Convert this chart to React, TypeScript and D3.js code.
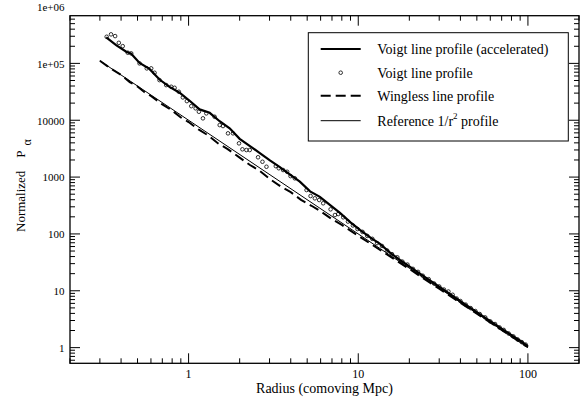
import React from "react";
import * as d3 from "d3";

const WIDTH = 588;
const HEIGHT = 403;

// Voigt line profile, accelerated run (thick solid line)
const radiusAccel = [0.327, 0.374, 0.429, 0.459, 0.514, 0.588, 0.674, 0.772, 0.885, 1.014, 1.161, 1.331, 1.524, 1.746, 2.0, 2.3, 2.63, 3.0, 3.45, 4.0, 4.525, 5.2, 5.94, 6.8, 7.8, 9.0, 10.23, 11.8, 13.43, 15.5, 17.6, 20, 25, 30, 35, 40, 50, 60, 70, 80, 90, 100];
const pAccel = [2.87e5, 2.1e5, 1.6e5, 1.48e5, 1.02e5, 8.0e4, 5.2e4, 3.85e4, 3.05e4, 2.2e4, 1.55e4, 1.35e4, 9.6e3, 7.2e3, 4.7e3, 3.5e3, 2.65e3, 1.98e3, 1.5e3, 1.08e3, 830, 560, 450, 325, 235, 160, 118, 86, 67, 46, 34.8, 26.8, 17.0, 11.8, 8.6, 6.56, 4.2, 2.92, 2.16, 1.66, 1.32, 1.06];

// Voigt line profile (open circles)
const radiusVoigt = [0.329, 0.349, 0.369, 0.388, 0.409, 0.438, 0.459, 0.514, 0.567, 0.602, 0.63, 0.674, 0.738, 0.79, 0.827, 0.876, 0.925, 0.977, 1.037, 1.1, 1.15, 1.215, 1.272, 1.424, 1.525, 1.595, 1.707, 1.827, 1.982, 2.076, 2.192, 2.293, 2.567, 2.725, 2.877, 3.266, 3.401, 3.606, 3.808, 3.989, 4.227, 4.958, 5.235, 5.549, 5.884, 6.214, 6.871, 7.287, 7.622, 8.155, 8.7, 9.3, 9.9, 10.6, 11.3, 12.1, 12.9, 13.8, 14.8, 15.8, 17.0, 18.2, 19.5, 21, 22.5, 24, 26, 28, 30, 32, 34, 36, 38, 40, 43, 46, 49, 52, 56, 60, 64, 68, 72, 77, 82, 87, 92, 97];
const pVoigt = [2.94e5, 3.24e5, 3.02e5, 2.3e5, 2.01e5, 1.54e5, 1.5e5, 1.0e5, 8.17e4, 8.17e4, 6.84e4, 5.08e4, 4.15e4, 3.88e4, 3.72e4, 3.17e4, 2.52e4, 2.17e4, 1.77e4, 1.62e4, 1.41e4, 1.08e4, 1.32e4, 1.15e4, 8.23e3, 7.9e3, 5.88e3, 5.88e3, 3.92e3, 3.08e3, 2.99e3, 2.99e3, 2.23e3, 1.86e3, 1.52e3, 1.56e3, 1.43e3, 1.33e3, 1.24e3, 1.04e3, 951, 592, 464, 423, 395, 346, 271, 215, 224, 196, 165, 141, 122, 108.6, 92.4, 82, 69, 61.4, 51.1, 44.1, 38.8, 32.6, 28.9, 24.3, 21.5, 18.4, 16.0, 13.4, 11.9, 10.5, 9.7, 8.5, 7.3, 6.6, 5.7, 4.95, 4.4, 3.9, 3.4, 2.9, 2.6, 2.27, 2.05, 1.77, 1.58, 1.39, 1.25, 1.13];

// Wingless line profile (thick dashed line)
const radiusWingless = [0.3, 0.35, 0.4, 0.45, 0.5, 0.55, 0.6, 0.7, 0.8, 0.9, 1.0, 1.15, 1.3, 1.5, 1.7, 2.0, 2.3, 2.6, 3.0, 3.5, 4.0, 4.6, 5.3, 6.0, 7.0, 8.0, 10, 12, 15, 20, 25, 30, 40, 50, 70, 100];
const pWingless = [1.11e5, 8.0e4, 6.25e4, 4.69e4, 3.92e4, 3.11e4, 2.67e4, 1.9e4, 1.48e4, 1.12e4, 9.3e3, 6.81e3, 5.44e3, 3.87e3, 3.11e3, 2.2e3, 1.63e3, 1.32e3, 933, 678, 544, 397, 313, 250, 182, 144, 93, 65.3, 42.2, 24.25, 15.5, 10.9, 6.13, 3.96, 2.04, 1.02];

// Reference 1/r^2 profile (thin line, straight in log-log)
const radiusRef = [0.3, 100];
const pRef = [1.111e5, 1.0];

const xTickValues = [1, 10, 100];
const xTickLabels = ["1", "10", "100"];
const yTickValues = [1, 10, 100, 1000, 10000, 1e5, 1e6];
const yTickLabels = ["1", "10", "100", "1000", "10000", "1e+05", "1e+06"];

const legendLabels = [
  "Voigt line profile (accelerated)",
  "Voigt line profile",
  "Wingless line profile",
  "Reference 1/r",
];

const serif = { fontFamily: "'Liberation Serif', 'Times New Roman', Times, serif" };

export default function App() {
  const left = 70, right = 579, top = 15.7, bottom = 363.3;
  const x = d3.scaleLog().domain([0.2, 200]).range([left, right]);
  const y = d3.scaleLog().domain([0.53, 6.9e5]).range([bottom, top]);

  const pts = (rs: number[], ps: number[]) => rs.map((r, i) => [r, ps[i]] as [number, number]);
  const line = d3
    .line<[number, number]>()
    .x((d) => x(d[0]))
    .y((d) => y(d[1]));

  // minor ticks at 2..9 of each decade
  const xMinor: number[] = [];
  for (let e = -1; e <= 2; e++)
    for (let m = 2; m <= 9; m++) {
      const v = m * Math.pow(10, e);
      if (v >= 0.2 && v <= 200) xMinor.push(v);
    }
  const yMinor: number[] = [];
  for (let e = -1; e <= 5; e++)
    for (let m = 2; m <= 9; m++) {
      const v = m * Math.pow(10, e);
      if (v >= 0.53 && v <= 6.9e5) yMinor.push(v);
    }
  const yMajorIn = yTickValues.filter((v) => v >= 0.53 && v <= 6.9e5);

  const major = 10, minor = 5;

  const legX = 308.3, legY = 32.7, legW = 260, legH = 108.3;
  const rows = [49, 72.7, 95.7, 120.7];

  return (
    <svg
      width={WIDTH}
      height={HEIGHT}
      style={{ position: "absolute", left: 0, top: 0, background: "#fff" }}
    >
      <rect x={0} y={0} width={WIDTH} height={HEIGHT} fill="#fff" />

      {/* data */}
      <path d={line(pts(radiusRef, pRef)) || ""} fill="none" stroke="#000" strokeWidth={1} />
      <path
        d={line(pts(radiusWingless, pWingless)) || ""}
        fill="none"
        stroke="#000"
        strokeWidth={2}
        strokeDasharray="10,5"
      />
      <path d={line(pts(radiusAccel, pAccel)) || ""} fill="none" stroke="#000" strokeWidth={2.2} />
      {pts(radiusVoigt, pVoigt).map((d, i) => (
        <circle key={i} cx={x(d[0])} cy={y(d[1])} r={1.8} fill="none" stroke="#000" strokeWidth={0.8} />
      ))}

      {/* frame */}
      <rect x={left} y={top} width={right - left} height={bottom - top} fill="none" stroke="#000" strokeWidth={1.3} />

      {/* x ticks (bottom and top, pointing inward) */}
      {xTickValues.map((v) => (
        <g key={"xM" + v}>
          <line x1={x(v)} x2={x(v)} y1={bottom} y2={bottom - major} stroke="#000" strokeWidth={1} />
          <line x1={x(v)} x2={x(v)} y1={top} y2={top + major} stroke="#000" strokeWidth={1} />
        </g>
      ))}
      {xMinor.map((v) => (
        <g key={"xm" + v}>
          <line x1={x(v)} x2={x(v)} y1={bottom} y2={bottom - minor} stroke="#000" strokeWidth={1} />
          <line x1={x(v)} x2={x(v)} y1={top} y2={top + minor} stroke="#000" strokeWidth={1} />
        </g>
      ))}
      {xTickValues.map((v, i) => (
        <text key={"xl" + v} x={x(v)} y={377.5} textAnchor="middle" fontSize={12} fill="#000" style={serif}>
          {xTickLabels[i]}
        </text>
      ))}

      {/* y ticks (left and right, pointing inward) */}
      {yMajorIn.map((v) => (
        <g key={"yM" + v}>
          <line x1={left} x2={left + major} y1={y(v)} y2={y(v)} stroke="#000" strokeWidth={1} />
          <line x1={right} x2={right - major} y1={y(v)} y2={y(v)} stroke="#000" strokeWidth={1} />
        </g>
      ))}
      {yMinor.map((v) => (
        <g key={"ym" + v}>
          <line x1={left} x2={left + minor} y1={y(v)} y2={y(v)} stroke="#000" strokeWidth={1} />
          <line x1={right} x2={right - minor} y1={y(v)} y2={y(v)} stroke="#000" strokeWidth={1} />
        </g>
      ))}
      {yTickValues.map((v, i) => (
        <text key={"yl" + v} x={64.5} y={y(v) + 4.3} textAnchor="end" fontSize={11} fill="#000" style={serif}>
          {yTickLabels[i]}
        </text>
      ))}

      {/* axis titles */}
      <text x={(left + right) / 2} y={392.5} textAnchor="middle" fontSize={14} fill="#000" style={serif}>
        Radius (comoving Mpc)
      </text>
      <text transform="translate(24.5,232) rotate(-90)" fontSize={13} fill="#000" style={serif}>
        Normalized
        <tspan dx={13}>P</tspan>
        <tspan dx={5} dy={6.5} fontSize={12}>
          α
        </tspan>
      </text>

      {/* legend */}
      <rect x={legX} y={legY} width={legW} height={legH} fill="#fff" stroke="#000" strokeWidth={1} />
      <line x1={320.7} x2={360.7} y1={rows[0]} y2={rows[0]} stroke="#000" strokeWidth={2.2} />
      <circle cx={340.7} cy={rows[1]} r={1.8} fill="none" stroke="#000" strokeWidth={0.8} />
      <line x1={320.7} x2={360.7} y1={rows[2]} y2={rows[2]} stroke="#000" strokeWidth={2} strokeDasharray="10,5" />
      <line x1={320.7} x2={360.7} y1={rows[3]} y2={rows[3]} stroke="#000" strokeWidth={1} />
      {legendLabels.map((t, i) => (
        <text key={t} x={377.3} y={rows[i] + 4.8} fontSize={14} fill="#000" style={serif}>
          {t}
          {i === 3 ? (
            <>
              <tspan dy={-7} fontSize={9}>
                2
              </tspan>
              <tspan dy={7}> profile</tspan>
            </>
          ) : null}
        </text>
      ))}
    </svg>
  );
}
